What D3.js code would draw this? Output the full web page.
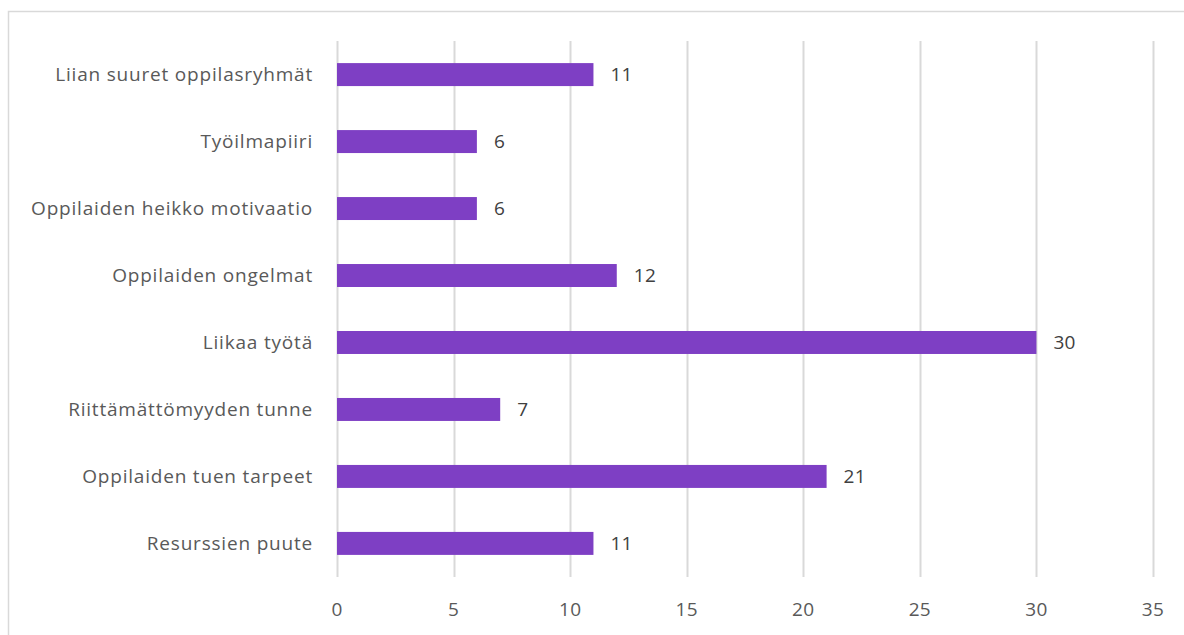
<!DOCTYPE html>
<html>
<head>
<meta charset="utf-8">
<script src="https://cdn.jsdelivr.net/npm/d3@7"></script>
<style>
  body { margin: 0; background: #fff; }
  svg { display: block; font-family: "Open Sans", sans-serif; }
</style>
</head>
<body>
<div id="chart"></div>
<script>
// categories top to bottom
const categories = [
  'Liian suuret oppilasryhmät',
  'Työilmapiiri',
  'Oppilaiden heikko motivaatio',
  'Oppilaiden ongelmat',
  'Liikaa työtä',
  'Riittämättömyyden tunne',
  'Oppilaiden tuen tarpeet',
  'Resurssien puute'
];
const values = [11, 6, 6, 12, 30, 7, 21, 11];
const xTicks = [0, 5, 10, 15, 20, 25, 30, 35];

const width = 1184, height = 635;
const margin = {top: 41, right: 31, bottom: 58, left: 337};
const textColor = '#595959';
const fontSize = '19px';

const svg = d3.select('#chart').append('svg')
  .attr('width', width)
  .attr('height', height);

// chart frame
svg.append('rect')
  .attr('x', 8.5).attr('y', 11.5)
  .attr('width', width).attr('height', height)
  .attr('fill', 'none')
  .attr('stroke', '#d9d9d9')
  .attr('stroke-width', 1.5);

const x = d3.scaleLinear()
  .domain([0, 35])
  .range([margin.left, width - margin.right]);

const y = d3.scaleBand()
  .domain(categories)
  .range([margin.top, height - margin.bottom])
  .paddingInner(0.657)
  .paddingOuter(0.33);

// gridlines
svg.append('g')
  .selectAll('line')
  .data(xTicks)
  .enter().append('line')
    .attr('x1', d => Math.round(x(d)) + 0.5)
    .attr('x2', d => Math.round(x(d)) + 0.5)
    .attr('y1', margin.top)
    .attr('y2', height - margin.bottom)
    .attr('stroke', '#d9d9d9')
    .attr('stroke-width', 2);

// x tick labels
svg.append('g')
  .selectAll('text')
  .data(xTicks)
  .enter().append('text')
    .attr('x', d => x(d))
    .attr('y', 609)
    .attr('dy', '0.35em')
    .attr('text-anchor', 'middle')
    .attr('font-size', fontSize)
    .attr('letter-spacing', '0.3px')
    .attr('fill', textColor)
    .text(d => d);

// bars
svg.append('g')
  .selectAll('rect')
  .data(values)
  .enter().append('rect')
    .attr('x', x(0))
    .attr('y', (d, i) => y(categories[i]))
    .attr('width', d => x(d) - x(0))
    .attr('height', y.bandwidth())
    .attr('fill', '#7e3fc4');

// category labels
svg.append('g')
  .selectAll('text')
  .data(categories)
  .enter().append('text')
    .attr('x', margin.left - 24)
    .attr('y', d => y(d) + y.bandwidth() / 2)
    .attr('dy', '0.35em')
    .attr('text-anchor', 'end')
    .attr('font-size', fontSize)
    .attr('letter-spacing', '0.8px')
    .attr('fill', textColor)
    .text(d => d);

// value labels
svg.append('g')
  .selectAll('text')
  .data(values)
  .enter().append('text')
    .attr('x', d => x(d) + 17)
    .attr('y', (d, i) => y(categories[i]) + y.bandwidth() / 2)
    .attr('dy', '0.35em')
    .attr('font-size', fontSize)
    .attr('letter-spacing', '0.3px')
    .attr('fill', '#404040')
    .text(d => d);
</script>
</body>
</html>
